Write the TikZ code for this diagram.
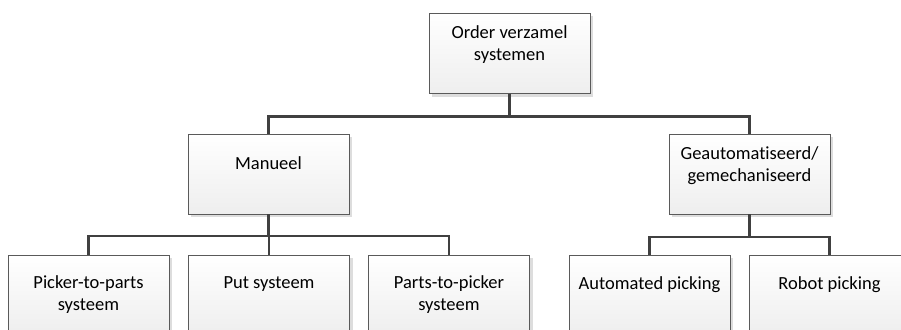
\documentclass[tikz,border=0pt]{standalone}
\usepackage{fontspec}
\setmainfont[Ligatures=NoCommon]{Carlito}
\usetikzlibrary{shadows}
\definecolor{boxline}{HTML}{5A5A5A}
\definecolor{conn}{HTML}{404040}
\definecolor{shade}{HTML}{D4D4D4}
\definecolor{boxbot}{HTML}{EEEEEE}
\tikzset{
  box/.style={draw=boxline, line width=0.9pt, top color=white, bottom color=boxbot,
    minimum width=161pt, minimum height=80pt, inner sep=0pt, outer sep=0pt,
    drop shadow={shadow xshift=3pt, shadow yshift=-3pt, fill=shade, opacity=0.8}},
  lbl/.style={font=\fontsize{18.5}{22}\selectfont, align=center, anchor=base, inner sep=0pt, text=black},
  conn/.style={draw=conn, line width=2.6pt}
}
\begin{document}
\begin{tikzpicture}[x=1pt,y=-1pt]
\useasboundingbox (0,0) rectangle (901,329);
\clip (0,0) rectangle (901,329);
% boxes
\node[box] (top) at (509.5,53.5) {};
\node[box] (man) at (268.5,174) {};
\node[box] (aut) at (749.5,174) {};
\node[box] (pick) at (88.5,295) {};
\node[box] (put) at (269,295) {};
\node[box] (parts) at (449,295) {};
\node[box] (auto) at (649.5,295) {};
\node[box] (robot) at (829.5,295) {};
% connectors
\draw[conn] (top.south) -- +(0,23) -| (man.north);
\draw[conn] (top.south) -- +(0,23) -| (aut.north);
\draw[conn] (man.south) -- +(0,22) -| (pick.north);
\draw[conn] (man.south) -- +(0,22) -| (put.north);
\draw[conn] (man.south) -- +(0,22) -| (parts.north);
\draw[conn] (aut.south) -- +(0,23) -| (auto.north);
\draw[conn] (aut.south) -- +(0,23) -| (robot.north);
% labels (base anchor = last line's baseline)
\node[lbl] (ttop) at (509.5,60) {Order verzamel\\systemen};
\node[lbl] (tman) at (268.5,169) {Manueel};
\node[lbl] (taut) at (749.5,181.5) {Geautomatiseerd/\\gemechaniseerd};
\node[lbl] (tpick) at (88.5,310) {Picker-to-parts\\systeem};
\node[lbl] (tput) at (269,288) {Put systeem};
\node[lbl] (tparts) at (449,310) {Parts-to-picker\\systeem};
\node[lbl] (tauto) at (649.5,289) {Automated picking};
\node[lbl] (trobot) at (829.5,289) {Robot picking};
\end{tikzpicture}
\end{document}
